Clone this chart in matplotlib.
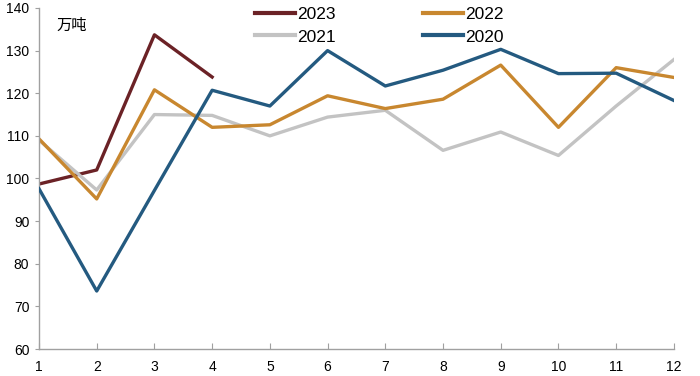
import matplotlib.pyplot as plt

plt.rcParams['font.family'] = ['Liberation Sans', 'Noto Sans CJK SC', 'DejaVu Sans']

months = list(range(1, 13))
y2023 = [98.7, 102.0, 133.7, 123.8]
y2022 = [109.3, 95.2, 120.8, 112.0, 112.6, 119.4, 116.4, 118.6, 126.6, 112.0, 126.0, 123.7]
y2021 = [109.0, 97.3, 115.0, 114.8, 110.0, 114.4, 116.0, 106.6, 110.9, 105.4, 117.0, 127.9]
y2020 = [97.6, 73.6, 97.2, 120.7, 117.0, 130.0, 121.7, 125.4, 130.3, 124.6, 124.7, 118.3]
yticks = [60, 70, 80, 90, 100, 110, 120, 130, 140]

fig = plt.figure(figsize=(7, 3.76), dpi=100)
ax = fig.add_axes([0.0557, 0.0718, 0.907, 0.907])

lw = 2.4
l23, = ax.plot(months[:4], y2023, color='#6b2226', lw=lw, label='2023')
l21, = ax.plot(months, y2021, color='#c3c3c3', lw=lw, label='2021')
l22, = ax.plot(months, y2022, color='#c8872f', lw=lw, label='2022')
l20, = ax.plot(months, y2020, color='#245a80', lw=lw, label='2020')
l20.set_zorder(3)

ax.set_xlim(1, 12)
ax.set_ylim(60, 140)
ax.set_xticks(months)
ax.set_yticks(yticks)
for s in ['top', 'right']:
    ax.spines[s].set_visible(False)
for s in ['left', 'bottom']:
    ax.spines[s].set_color('#a0a0a0')
    ax.spines[s].set_linewidth(1.0)
ax.tick_params(axis='x', direction='in', length=4, color='#a0a0a0', labelsize=10, pad=8)
ax.tick_params(axis='y', direction='out', length=3, color='#a0a0a0', labelsize=10, pad=4)

ax.text(0.027, 0.95, '万吨', transform=ax.transAxes, fontsize=11,
        ha='left', va='center', family=['Noto Sans CJK SC', 'DejaVu Sans'])

leg = ax.legend(handles=[l23, l21, l22, l20], ncol=2, loc='upper left',
                bbox_to_anchor=(0.34, 1.003), frameon=False, fontsize=12.5,
                handlelength=2.3, columnspacing=5.0, labelspacing=0.42,
                handletextpad=0.15, borderpad=0, borderaxespad=0)
for h in leg.get_lines():
    h.set_linewidth(3.0)

fig.savefig('out.png', dpi=100)
